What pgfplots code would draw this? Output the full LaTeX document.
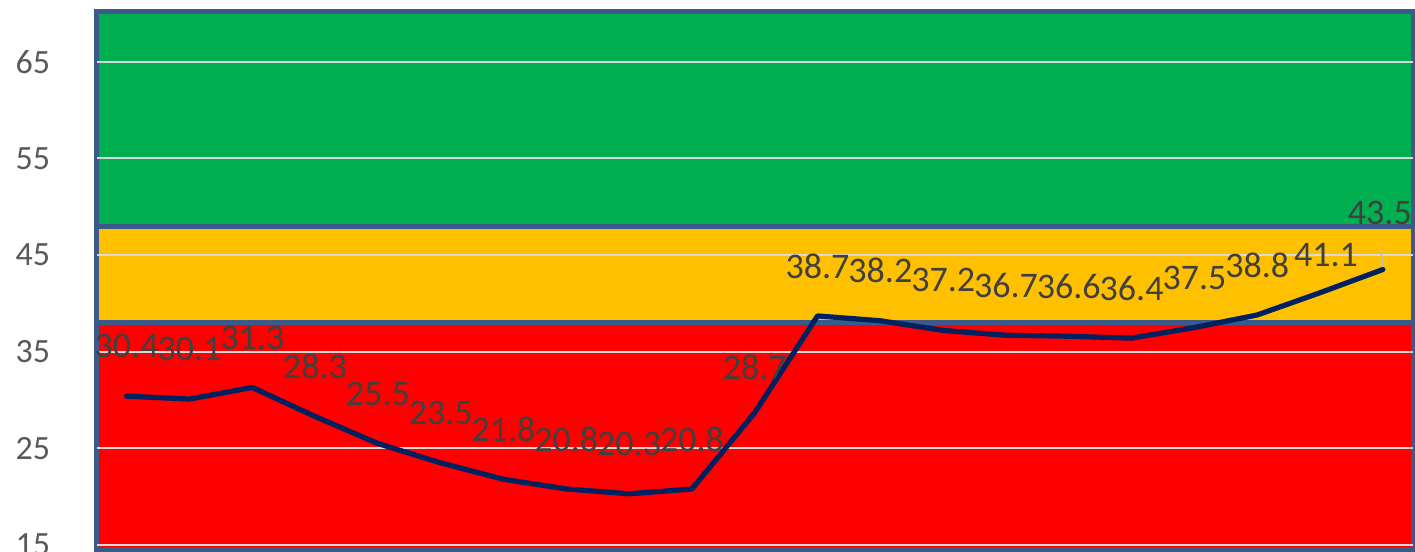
\documentclass[border=0pt]{standalone}
\usepackage{pgfplots}
\pgfplotsset{compat=1.18}
\usepackage{fontspec}
\setmainfont{Carlito}

\definecolor{bandgreen}{HTML}{00B050}
\definecolor{bandyellow}{HTML}{FFC000}
\definecolor{bandred}{HTML}{FF0000}
\definecolor{bandborder}{HTML}{3B5A8B}
\definecolor{linenavy}{HTML}{002060}
\definecolor{gridgray}{HTML}{D9D9D9}
\definecolor{ticktext}{HTML}{595959}
\definecolor{labeltext}{HTML}{404040}
\definecolor{leader}{HTML}{BFBFBF}

\begin{document}
\begin{tikzpicture}
\begin{axis}[
  set layers=standard,
  scale only axis,
  width=658.25pt, height=268.5pt,
  xmin=-0.48, xmax=20.48,
  ymin=14.59, ymax=70.14,
  clip=false,
  axis line style={draw=none},
  xtick=\empty,
  ytick={15,25,...,65},
  major tick length=0pt,
  ymajorgrids,
  grid style={color=gridgray, line width=1pt},
  yticklabel style={font=\fontsize{17}{20}\selectfont, color=ticktext,
    anchor=east, inner sep=0pt, xshift=-23pt},
  /pgf/number format/assume math mode=true,
]
% coloured bands
\addplot[on layer=axis background, fill=bandred, draw=bandborder, line width=2.5pt]
  coordinates {(-0.48,14.59) (20.48,14.59) (20.48,38) (-0.48,38)} -- cycle;
\addplot[on layer=axis background, fill=bandyellow, draw=bandborder, line width=2.5pt]
  coordinates {(-0.48,38) (20.48,38) (20.48,48) (-0.48,48)} -- cycle;
\addplot[on layer=axis background, fill=bandgreen, draw=bandborder, line width=2.5pt]
  coordinates {(-0.48,48) (20.48,48) (20.48,70.14) (-0.48,70.14)} -- cycle;

% leader lines
\addplot[leader, line width=0.75pt] coordinates {(11,38.7) (11,40.03)};
\addplot[leader, line width=0.75pt] coordinates {(20,43.5) (19.97,45.62)};

% data
\addplot[color=linenavy, line width=2.6pt, line join=round, line cap=round,
  nodes near coords,
  visualization depends on={\thisrow{dy}\as\dy},
  visualization depends on={\thisrow{dx}\as\dx},
  every node near coord/.append style={font=\fontsize{18}{21}\selectfont,
    color=labeltext, anchor=center, inner sep=0pt,
    yshift=\dy pt, xshift=\dx pt,
    /pgf/number format/fixed, /pgf/number format/precision=1,
    /pgf/number format/fixed zerofill},
] table {
x y dy dx
0 30.4 25 0
1 30.1 25 0
2 31.3 25 0
3 28.3 25 0
4 25.5 25 0
5 23.5 25 0
6 21.8 25 0
7 20.8 25 0
8 20.3 25 0
9 20.8 25 0
10 28.7 22.5 0
11 38.7 25 0
12 38.2 25 0
13 37.2 25 0
14 36.7 25 0
15 36.6 25 0
16 36.4 25 0
17 37.5 25 0
18 38.8 25 0
19 41.1 18.9 3
20 43.5 28.5 -1.5
};
\end{axis}
\pgfresetboundingbox
\useasboundingbox ([xshift=-48.25pt, yshift=-1.5pt]current axis.south west)
  rectangle ([xshift=1pt, yshift=6pt]current axis.north east);
\end{tikzpicture}
\end{document}
